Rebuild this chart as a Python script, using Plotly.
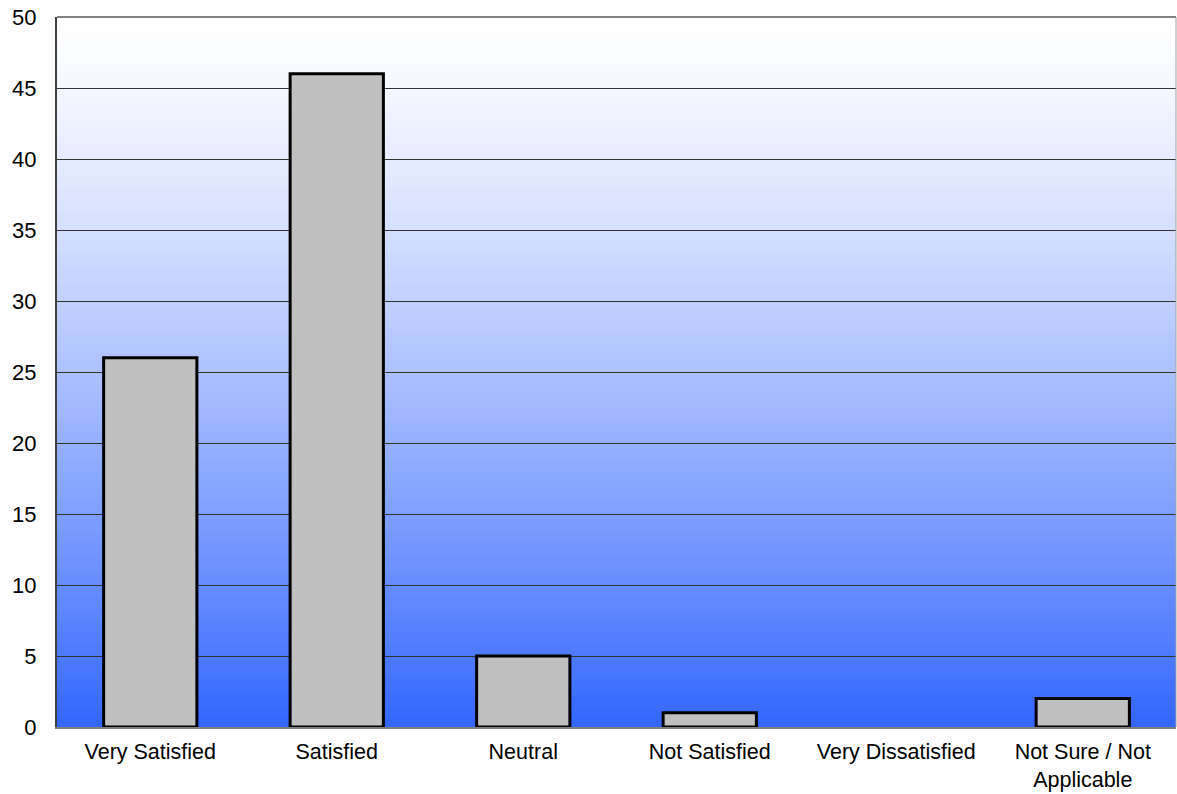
import plotly.graph_objects as go

categories = ["Very Satisfied", "Satisfied", "Neutral", "Not Satisfied",
              "Very Dissatisfied", "Not Sure / Not<br>Applicable"]
counts = [26, 46, 5, 1, 0, 2]
y_ticks = list(range(0, 51, 5))

# zero-height bars get no outline so nothing is drawn for them
outline_widths = [3 if v > 0 else 0 for v in counts]

fig = go.Figure()
fig.add_trace(go.Bar(
    x=categories, y=counts, width=0.5,
    marker=dict(color="#C0C0C0", line=dict(color="#000000", width=outline_widths)),
    hoverinfo="x+y",
))

# vertical background gradient: white at the top fading into blue at the bottom
n_bands = 120
top_rgb = (255, 255, 255)
bot_rgb = (51, 102, 255)
shapes = []
for i in range(n_bands):
    t = (i + 0.5) / n_bands          # 0 at top, 1 at bottom
    f = t ** 1.3
    c = tuple(round(a + (b - a) * f) for a, b in zip(top_rgb, bot_rgb))
    y1 = 1 - i / n_bands
    y0 = 1 - (i + 1) / n_bands
    shapes.append(dict(
        type="rect", xref="paper", yref="paper", layer="below",
        x0=0, x1=1, y0=y0 - 0.001, y1=y1 + 0.001,
        line=dict(width=0), fillcolor="rgb(%d,%d,%d)" % c,
    ))
# frame on top and right
shapes.append(dict(type="line", xref="paper", yref="paper", x0=0, x1=1, y0=1, y1=1,
                   line=dict(color="#808080", width=2)))
shapes.append(dict(type="line", xref="paper", yref="paper", x0=1, x1=1, y0=0, y1=1,
                   line=dict(color="#A0A0A0", width=1)))

fig.update_layout(
    width=1177, height=794,
    margin=dict(l=57, r=1, t=17, b=67),
    paper_bgcolor="white",
    plot_bgcolor="rgba(0,0,0,0)",
    showlegend=False,
    bargap=0.5,
    shapes=shapes,
    font=dict(family="Liberation Sans, Arial, sans-serif", color="#000000"),
    xaxis=dict(
        tickfont=dict(size=21.5), showline=True, linecolor="#808080", linewidth=2,
        ticks="", showgrid=False, ticklabelstandoff=4, automargin=False,
    ),
    yaxis=dict(
        range=[0, 50], tickvals=y_ticks, tickfont=dict(size=22),
        showgrid=True, gridcolor="#333333", gridwidth=1,
        showline=True, linecolor="#404040", linewidth=2,
        ticks="", zeroline=False, ticklabelstandoff=14, automargin=False,
    ),
)

fig.write_html("out.html")
